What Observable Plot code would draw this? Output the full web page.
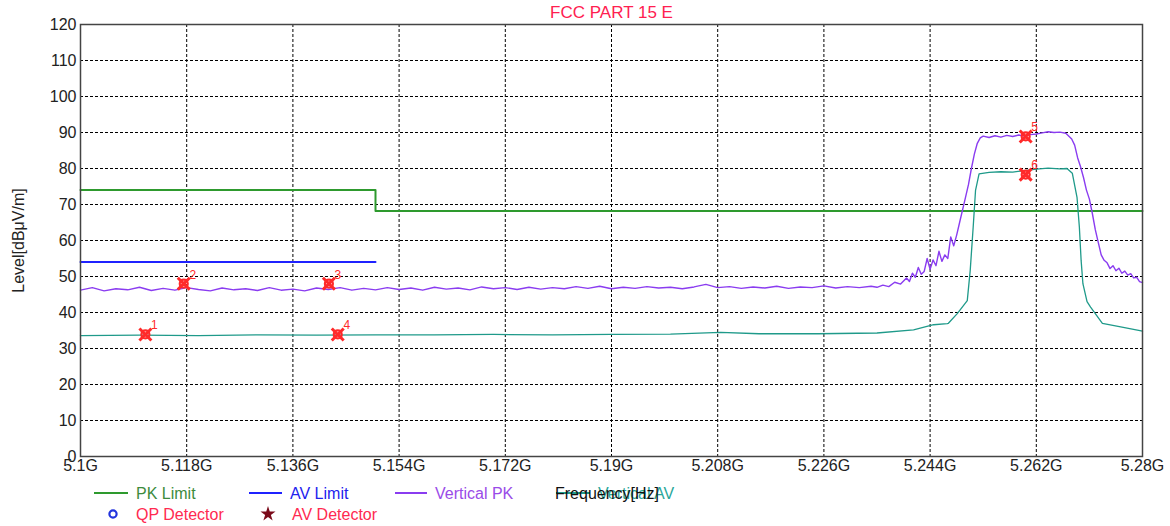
<!DOCTYPE html>
<html><head><meta charset="utf-8">
<script src="https://cdn.jsdelivr.net/npm/d3@7"></script>
<script src="https://cdn.jsdelivr.net/npm/@observablehq/plot@0.6"></script>
<style>
body{margin:0;background:#fff;font-family:"Liberation Sans",Arial,sans-serif;}
#wrap{width:1170px;height:526px;overflow:hidden;}
#wrap svg{display:block;}
</style></head><body><div id="wrap"></div>
<script>
// ---- data ----
const chartTitle = "FCC PART 15 E";
const yLabel = "Level[dBμV/m]";
const xLabel = "Frequency[Hz]";
const xTicks = [5.1, 5.118, 5.136, 5.154, 5.172, 5.19, 5.208, 5.226, 5.244, 5.262, 5.28];
const xTickLabels = ["5.1G","5.118G","5.136G","5.154G","5.172G","5.19G","5.208G","5.226G","5.244G","5.262G","5.28G"];
const yTicks = [0,10,20,30,40,50,60,70,80,90,100,110,120];

const pkLimit = [[5.1,74],[5.15,74],[5.15,68.2],[5.28,68.2]];
const avLimit = [[5.1,54],[5.15,54]];

const verticalPK = [
[5.100,46.2],[5.102,46.9],[5.104,46.0],[5.106,46.6],[5.108,46.3],[5.110,47.0],[5.112,46.1],[5.114,46.7],
[5.116,46.2],[5.118,46.9],[5.120,46.4],[5.122,46.0],[5.124,46.8],[5.126,46.3],[5.128,46.6],[5.130,46.1],
[5.132,46.9],[5.134,46.2],[5.136,46.5],[5.138,46.0],[5.140,46.8],[5.142,46.4],[5.144,46.9],[5.146,46.2],
[5.148,46.7],[5.150,46.3],[5.152,46.9],[5.154,46.4],[5.156,46.8],[5.158,46.2],[5.160,47.0],[5.162,46.5],
[5.164,46.8],[5.166,46.3],[5.168,47.1],[5.170,46.6],[5.172,46.9],[5.174,46.4],[5.176,47.0],[5.178,46.5],
[5.180,46.9],[5.182,46.6],[5.184,47.2],[5.186,46.7],[5.188,47.3],[5.190,46.6],[5.192,47.0],[5.194,46.7],
[5.196,47.2],[5.198,46.8],[5.200,47.0],[5.202,46.6],[5.204,47.1],[5.206,47.8],[5.208,46.9],[5.210,47.2],
[5.212,46.7],[5.214,47.1],[5.216,46.8],[5.218,47.3],[5.220,46.7],[5.222,47.1],[5.224,46.9],[5.226,47.4],
[5.228,46.8],[5.230,47.2],[5.232,46.9],[5.234,47.3],
[5.235,47.0],[5.236,47.6],[5.237,47.2],[5.238,48.4],[5.239,47.9],[5.240,49.6],[5.2405,48.6],[5.241,50.9],
[5.2415,49.8],[5.242,52.5],[5.2425,50.6],[5.243,51.4],[5.2435,55.0],[5.244,52.0],[5.2445,54.6],[5.245,53.0],
[5.2455,57.0],[5.246,54.2],[5.2465,56.0],[5.247,55.0],[5.2475,61.0],[5.248,58.5],[5.2485,61.5],[5.249,65.0],
[5.250,72.0],[5.2505,75.5],[5.251,80.0],[5.2515,84.0],[5.252,87.0],[5.2525,88.5],[5.253,89.0],[5.254,88.6],
[5.255,89.1],[5.256,88.7],[5.257,89.2],[5.258,88.9],[5.259,89.3],[5.260,89.0],[5.261,89.4],[5.262,89.6],
[5.263,89.9],[5.264,90.2],[5.265,90.0],[5.266,90.1],[5.267,89.8],[5.268,88.2],[5.2685,86.5],[5.269,83.0],
[5.2695,80.5],[5.270,77.5],[5.2705,74.0],[5.271,71.5],[5.2715,67.5],[5.272,63.0],[5.2725,59.5],[5.273,56.0],
[5.2735,54.5],[5.274,53.8],[5.2745,52.2],[5.275,53.0],[5.2755,51.6],[5.276,52.3],[5.2765,50.9],[5.277,51.5],
[5.2775,50.4],[5.278,50.8],[5.2785,49.6],[5.279,49.8],[5.2795,48.6],[5.280,48.3]
];

const verticalAV = [
[5.100,33.6],[5.110,33.7],[5.120,33.6],[5.130,33.8],[5.140,33.7],[5.150,33.8],[5.160,33.8],[5.170,33.9],
[5.180,33.8],[5.190,33.9],[5.200,34.0],[5.2085,34.5],[5.215,34.1],[5.225,34.1],[5.235,34.3],[5.2412,35.2],
[5.2446,36.6],[5.2469,36.9],[5.2471,37.0],[5.2486,39.7],[5.2503,43.3],[5.2508,51.7],[5.2513,63.7],[5.2517,73.9],
[5.2523,78.5],[5.254,78.9],[5.256,79.1],[5.258,79.0],[5.260,79.4],[5.262,79.8],[5.264,80.1],[5.266,79.9],
[5.2672,80.0],[5.2681,78.7],[5.2689,72.0],[5.2693,63.7],[5.2696,54.4],[5.2699,48.0],[5.2706,43.0],[5.2712,41.5],
[5.2732,37.0],[5.2763,36.0],[5.280,34.8]
];

const markerFreq = [5.111, 5.1175, 5.1421, 5.1436, 5.2602, 5.2602];
const markerLevel = [33.9, 48.0, 48.0, 33.9, 88.9, 78.3];
const markerLabel = ["1","2","3","4","5","6"];

// ---- build ----
const toObj = arr => arr.map(([f, v]) => ({f, v}));
const markers = markerFreq.map((f, i) => ({f, v: markerLevel[i], label: markerLabel[i]}));
const FONT = '"Liberation Sans",Arial,sans-serif';

const chart = Plot.plot({
  width: 1170, height: 480,
  marginLeft: 80, marginRight: 28, marginTop: 24, marginBottom: 24,
  style: {fontFamily: FONT, fontSize: "16px", color: "#222", background: "#fff", overflow: "visible"},
  x: {domain: [5.1, 5.28], ticks: xTicks, tickFormat: d => xTickLabels[xTicks.indexOf(d)], tickSize: 0, tickPadding: 3, label: null},
  y: {domain: [0, 120], ticks: yTicks, tickSize: 0, tickPadding: 4, label: null},
  marks: [
    Plot.gridX(xTicks, {stroke: "#000", strokeOpacity: 1, strokeDasharray: "3,2", strokeWidth: 1}),
    Plot.gridY(yTicks, {stroke: "#000", strokeOpacity: 1, strokeDasharray: "3,2", strokeWidth: 1}),
    Plot.line(toObj(pkLimit), {x: "f", y: "v", stroke: "#2e9a2e", strokeWidth: 2}),
    Plot.line(toObj(avLimit), {x: "f", y: "v", stroke: "#1f22ff", strokeWidth: 2}),
    Plot.line(toObj(verticalAV), {x: "f", y: "v", stroke: "#1f9a8a", strokeWidth: 1.3}),
    Plot.line(toObj(verticalPK), {x: "f", y: "v", stroke: "#8a3cf0", strokeWidth: 1.4}),
    Plot.dot(markers, {x: "f", y: "v", r: 4, stroke: "#ff2a2a", strokeWidth: 2.2, fill: "none"}),
    Plot.dot(markers, {x: "f", y: "v", r: 5.5, symbol: "times", stroke: "#ff2a2a", strokeWidth: 3}),
    Plot.text(markers, {x: "f", y: "v", text: "label", dx: 9, dy: -9, fill: "#ff2a2a", fontSize: 12}),
    Plot.frame({stroke: "#444", strokeWidth: 1.5}),
    Plot.text([chartTitle], {frameAnchor: "top", dy: -12, lineAnchor: "middle", textAnchor: "middle", fill: "#ff2050", fontSize: 17}),
    Plot.text([yLabel], {frameAnchor: "left", dx: -62, rotate: -90, textAnchor: "middle", lineAnchor: "middle", fill: "#222", fontSize: 16})
  ]
});
const wrap = document.getElementById("wrap");
wrap.appendChild(chart);

// ---- legend below ----
const leg = d3.select(wrap).append("svg").attr("width", 1170).attr("height", 46)
  .style("font-family", FONT).style("font-size", "16px");
const items = [
  {x1: 94, x2: 128, y: 13, color: "#2e9a2e", text: "PK Limit", tx: 136, tc: "#3d8b3d"},
  {x1: 249, x2: 282, y: 13, color: "#1f22ff", text: "AV Limit", tx: 290, tc: "#2222ee"},
  {x1: 395, x2: 427, y: 13, color: "#8a3cf0", text: "Vertical PK", tx: 435, tc: "#9a4be8"},
  {x1: 556, x2: 590, y: 13, color: "#1f9a8a", text: "Vertical AV", tx: 598, tc: "#2aa79a"}
];
items.forEach(d => {
  leg.append("line").attr("x1", d.x1).attr("x2", d.x2).attr("y1", d.y).attr("y2", d.y)
    .attr("stroke", d.color).attr("stroke-width", 2);
  leg.append("text").attr("x", d.tx).attr("y", d.y).attr("dy", "0.35em").attr("fill", d.tc).text(d.text);
});
leg.append("text").attr("x", 555).attr("y", 13).attr("dy", "0.35em").attr("fill", "#111").text(xLabel);
leg.append("circle").attr("cx", 113).attr("cy", 34).attr("r", 3.6).attr("fill", "none")
  .attr("stroke", "#2233dd").attr("stroke-width", 2.2);
leg.append("text").attr("x", 136).attr("y", 34).attr("dy", "0.35em").attr("fill", "#ff2a50").text("QP Detector");
leg.append("path").attr("transform", "translate(268,34)").attr("d", d3.symbol(d3.symbolStar, 70)())
  .attr("fill", "#7a0a1a");
leg.append("text").attr("x", 292).attr("y", 34).attr("dy", "0.35em").attr("fill", "#ff2a50").text("AV Detector");
</script>
</body></html>
